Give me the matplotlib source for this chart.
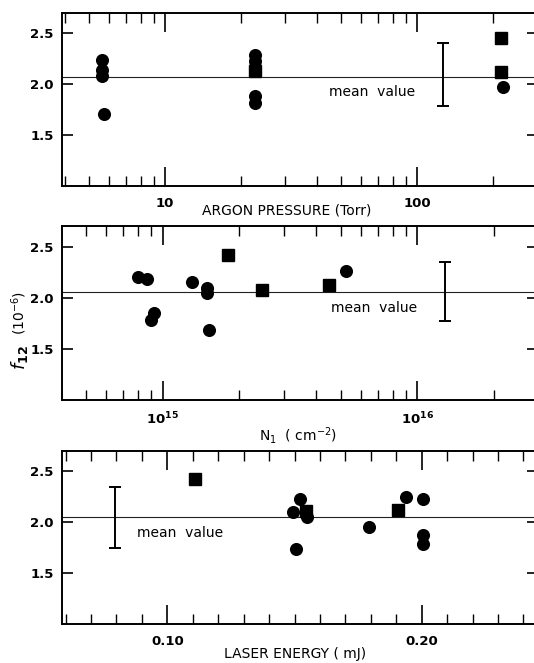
import matplotlib
matplotlib.use("Agg")
import matplotlib.pyplot as plt
from matplotlib.ticker import FixedLocator, NullFormatter
import numpy as np

plt.rcParams['font.family'] = ['DejaVu Sans']
plt.rcParams['mathtext.fontset'] = 'dejavusans'

# ---------------- data ----------------
# Panel 1: argon pressure (Torr)
p1_circ_x = [5.64, 5.64, 5.64, 5.70, 22.8, 22.8, 22.8, 22.8, 22.8, 219]
p1_circ_y = [2.23, 2.14, 2.08, 1.71, 2.28, 2.22, 2.17, 1.88, 1.81, 1.97]
p1_sq_x = [22.8, 215, 215]
p1_sq_y = [2.13, 2.45, 2.12]
p1_mean = 2.07
p1_err_x = 127
p1_err_lo, p1_err_hi = 1.785, 2.40

# Panel 2: N1 (cm^-2)
p2_circ_x = [8.0e14, 8.65e14, 9.0e14, 9.27e14, 1.30e15, 1.50e15, 1.50e15, 1.52e15, 5.24e15]
p2_circ_y = [2.21, 2.19, 1.78, 1.85, 2.16, 2.10, 2.05, 1.69, 2.265]
p2_sq_x = [1.80e15, 2.46e15, 4.5e15]
p2_sq_y = [2.42, 2.08, 2.13]
p2_mean = 2.06
p2_err_x = 1.28e16
p2_err_lo, p2_err_hi = 1.77, 2.35

# Panel 3: laser energy (mJ)
p3_circ_x = [0.1495, 0.1522, 0.1549, 0.1506, 0.1794, 0.1937, 0.2004, 0.2006, 0.2006]
p3_circ_y = [2.10, 2.225, 2.056, 1.733, 1.953, 2.25, 2.225, 1.872, 1.79]
p3_sq_x = [0.1109, 0.1544, 0.1906]
p3_sq_y = [2.42, 2.11, 2.118]
p3_mean = 2.05
p3_err_x = 0.0794
p3_err_lo, p3_err_hi = 1.743, 2.345

yticks = [1.5, 2.0, 2.5]
ytick_labels = ['1.5', '2.0', '2.5']

# ---------------- figure ----------------
W, H = 534, 663
fig = plt.figure(figsize=(W / 100, H / 100), dpi=100)


def ax_at(left, right, top, bottom):
    return fig.add_axes([left / W, 1 - bottom / H, (right - left) / W, (bottom - top) / H])


ax1 = ax_at(62, 538, 12.5, 186)
ax2 = ax_at(62, 538, 226.5, 400)
ax3 = ax_at(62, 538, 451, 624)

tick_font = dict(fontsize=9.5, fontweight='bold')


def style(ax):
    ax.set_ylim(1.0, 2.7)
    for s in ['left', 'top', 'bottom']:
        ax.spines[s].set_linewidth(1.4)
    ax.spines['right'].set_visible(False)
    ax.set_yticks(yticks)
    ax.set_yticklabels(ytick_labels, **tick_font)
    ax.tick_params(axis='y', which='major', direction='in', length=8, width=1.2,
                   left=True, right=True, pad=6)
    ax.tick_params(axis='y', which='minor', left=False, right=False)
    ax.tick_params(axis='x', which='major', direction='in', length=14, width=1.2,
                   top=True, bottom=True, pad=8)
    ax.tick_params(axis='x', which='minor', direction='in', length=7, width=1.0,
                   top=True, bottom=True)


def draw(ax, cx, cy, sx, sy, mean, ex, elo, ehi):
    ax.axhline(mean, color='#222222', lw=0.8, zorder=1)
    ax.plot(cx, cy, 'o', color='black', ms=8.4, mec='black', zorder=3)
    ax.plot(sx, sy, 's', color='black', ms=8.0, mec='black', zorder=3)
    ax.errorbar([ex], [mean], yerr=[[mean - elo], [ehi - mean]], fmt='none',
                ecolor='black', elinewidth=1.4, capsize=4.5, capthick=1.4, zorder=2)


# Panel 1
ax1.set_xscale('log')
ax1.set_xlim(3.9, 302)
style(ax1)
draw(ax1, p1_circ_x, p1_circ_y, p1_sq_x, p1_sq_y, p1_mean, p1_err_x, p1_err_lo, p1_err_hi)
ax1.xaxis.set_major_locator(FixedLocator([10, 100]))
ax1.set_xticklabels(['10', '100'], **tick_font)
ax1.xaxis.set_minor_locator(FixedLocator([4, 5, 6, 7, 8, 9, 20, 30, 40, 50, 60, 70, 80, 90, 200, 300]))
ax1.xaxis.set_minor_formatter(NullFormatter())
ax1.text(0.651, 0.544, 'mean  value', transform=ax1.transAxes, ha='center', va='center', fontsize=10)
fig.text(287 / W, 1 - 211 / H, 'ARGON PRESSURE (Torr)', ha='center', va='center', fontsize=10)

# Panel 2
ax2.set_xscale('log')
ax2.set_xlim(4.03e14, 2.97e16)
style(ax2)
draw(ax2, p2_circ_x, p2_circ_y, p2_sq_x, p2_sq_y, p2_mean, p2_err_x, p2_err_lo, p2_err_hi)
ax2.xaxis.set_major_locator(FixedLocator([1e15, 1e16]))
ax2.set_xticklabels([r'$\mathbf{10^{15}}$', r'$\mathbf{10^{16}}$'], fontsize=9.5)
ax2.xaxis.set_minor_locator(FixedLocator([k * 1e14 for k in range(4, 10)] +
                                         [k * 1e15 for k in range(2, 10)] +
                                         [2e16, 3e16]))
ax2.xaxis.set_minor_formatter(NullFormatter())
ax2.text(0.655, 0.532, 'mean  value', transform=ax2.transAxes, ha='center', va='center', fontsize=10)
fig.text(298 / W, 1 - 435 / H, r'N$_1$  ( cm$^{-2}$)', ha='center', va='center', fontsize=10)

# Panel 3
ax3.set_xlim(0.0586, 0.2457)
style(ax3)
draw(ax3, p3_circ_x, p3_circ_y, p3_sq_x, p3_sq_y, p3_mean, p3_err_x, p3_err_lo, p3_err_hi)
ax3.xaxis.set_major_locator(FixedLocator([0.10, 0.20]))
ax3.set_xticklabels(['0.10', '0.20'], **tick_font)
ax3.xaxis.set_minor_locator(FixedLocator([0.06 + 0.01 * k for k in range(19) if k not in (4, 14)]))
ax3.xaxis.set_minor_formatter(NullFormatter())
ax3.text(0.249, 0.528, 'mean  value', transform=ax3.transAxes, ha='center', va='center', fontsize=10)
fig.text(295 / W, 1 - 654 / H, 'LASER ENERGY ( mJ)', ha='center', va='center', fontsize=10)

# shared y label
fig.text(19 / W, 1 - 358 / H, r'$f_{\mathbf{12}}$', rotation=90, ha='center', va='center', fontsize=13)
fig.text(19 / W, 1 - 313 / H, r'$\mathregular{(10^{-6})}$', rotation=90, ha='center', va='center', fontsize=10)

fig.savefig('out.png', dpi=100)
